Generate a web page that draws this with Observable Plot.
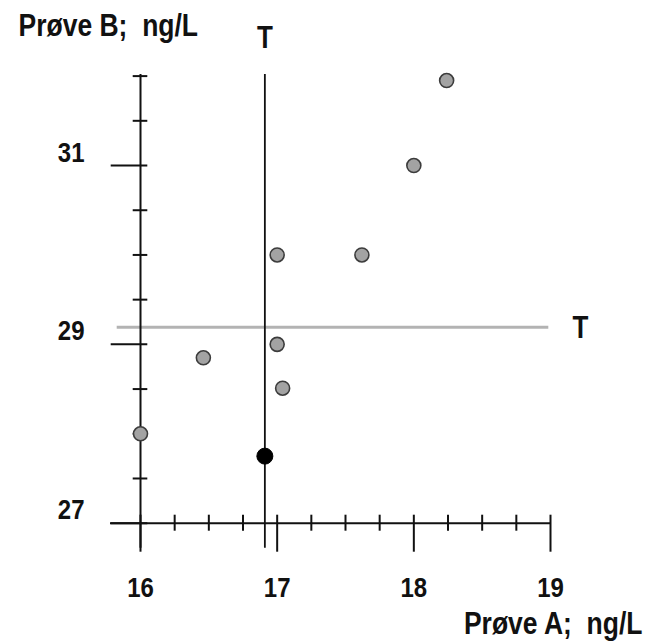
<!DOCTYPE html>
<html>
<head>
<meta charset="utf-8">
<script src="https://cdn.jsdelivr.net/npm/d3@7"></script>
<script src="https://cdn.jsdelivr.net/npm/@observablehq/plot@0.6"></script>
<style>
  html, body { margin: 0; padding: 0; background: #fff; }
  svg text { white-space: pre; }
</style>
</head>
<body>
<div id="chart"></div>
<script>
// Data
const sampleA = [16, 16.46, 17, 17, 17.04, 17.62, 18, 18.24];   // Prøve A (ng/L), other labs
const sampleB = [28, 28.85, 30, 29, 28.51, 30, 31, 31.95];      // Prøve B (ng/L), other labs
const ownA = [16.91];                                            // highlighted result
const ownB = [27.75];
const targetA = [16.91];                                         // target value T for A
const targetB = [29.19];                                         // target value T for B
const xTickLabels = [16, 17, 18, 19];
const yTickLabels = [27, 29, 31];
const xMinorTicks = [16.25, 16.5, 16.75, 17.25, 17.5, 17.75, 18.25, 18.5, 18.75];
const yMinorTicks = [27.5, 28, 28.5, 29.5, 30, 30.5, 31.5, 32];
const xTitle = "Prøve A;  ng/L";
const yTitle = "Prøve B;  ng/L";
const targetLabel = "T";

const others = sampleA.map((a, i) => ({a, b: sampleB[i]}));
const own = ownA.map((a, i) => ({a, b: ownB[i]}));

const font = "Liberation Sans, Arial, Helvetica, sans-serif";
const ink = "#111";
const txt = {fontWeight: "bold", fill: ink, lineAnchor: "middle"};

const chart = Plot.plot({
  width: 646,
  height: 641,
  marginLeft: 140,
  marginRight: 96,
  marginTop: 75.6,
  marginBottom: 118.3,
  style: {fontFamily: font, color: ink, background: "#fff"},
  x: {domain: [16, 19]},
  y: {domain: [27, 32]},
  marks: [
    // target line for B (grey, horizontal)
    Plot.ruleY(targetB, {stroke: "#b3b3b3", strokeWidth: 3, insetLeft: -23.3, insetRight: 1.7}),
    // axes lines
    Plot.ruleY([27], {stroke: ink, strokeWidth: 2, insetLeft: -30}),
    Plot.ruleX([16], {stroke: ink, strokeWidth: 2, insetBottom: -25, insetTop: -1.5}),
    // target line for A (black, vertical)
    Plot.ruleX(targetA, {stroke: ink, strokeWidth: 1.8, insetBottom: -25, insetTop: -1.5}),
    // x ticks
    Plot.axisX({anchor: "bottom", ticks: xTickLabels, tickSize: 37, dy: -8, strokeWidth: 2, tickFormat: () => "", label: null}),
    Plot.axisX({anchor: "bottom", ticks: xMinorTicks, tickSize: 16, dy: -8, strokeWidth: 2, tickFormat: () => "", label: null}),
    // y ticks
    Plot.axisY({anchor: "left", ticks: yTickLabels, tickSize: 36.6, dx: 7.3, strokeWidth: 2, tickFormat: () => "", label: null}),
    Plot.axisY({anchor: "left", ticks: yMinorTicks, tickSize: 14.6, dx: 7.3, strokeWidth: 2, tickFormat: () => "", label: null}),
    // tick labels
    Plot.text(xTickLabels, {x: d => d, text: d => String(d), frameAnchor: "bottom", dy: 65, fontSize: 24, ...txt}),
    Plot.text(yTickLabels, {y: d => d, text: d => String(d), frameAnchor: "left", textAnchor: "end", dx: -56, dy: -13, fontSize: 24, ...txt}),
    // axis titles
    Plot.text([yTitle], {frameAnchor: "top-left", textAnchor: "start", dx: -122, dy: -50, fontSize: 26.5, ...txt}),
    Plot.text([xTitle], {frameAnchor: "bottom-right", textAnchor: "end", dx: 92, dy: 101, fontSize: 26.5, ...txt}),
    // T labels
    Plot.text(targetA, {x: d => d, text: () => targetLabel, frameAnchor: "top", dy: -38, fontSize: 26, ...txt}),
    Plot.text(targetB, {y: d => d, text: () => targetLabel, frameAnchor: "right", textAnchor: "middle", dx: 30, dy: 1, fontSize: 26, ...txt}),
    // points
    Plot.dot(others, {x: "a", y: "b", r: 7, fill: "#a3a3a3", stroke: "#3c3c3c", strokeWidth: 1.6}),
    Plot.dot(own, {x: "a", y: "b", r: 8, fill: "#000", stroke: "#000", strokeWidth: 1})
  ]
});

// the reference's lettering is slightly stretched vertically
chart.querySelectorAll("text").forEach(t => {
  const tr = t.getAttribute("transform");
  if (tr && tr.includes("translate")) t.setAttribute("transform", tr + " scale(1,1.18)");
});

document.getElementById("chart").appendChild(chart);
</script>
</body>
</html>
